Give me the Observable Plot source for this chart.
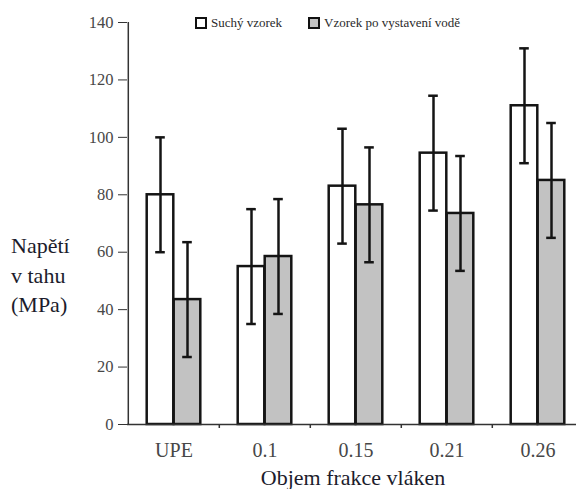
<!DOCTYPE html>
<html>
<head>
<meta charset="utf-8">
<script src="https://cdn.jsdelivr.net/npm/d3@7"></script>
<script src="https://cdn.jsdelivr.net/npm/@observablehq/plot@0.6"></script>
<style>
  html, body { margin: 0; padding: 0; background: #fff; }
  #wrap { position: relative; width: 576px; height: 489px; overflow: hidden; font-family: "Liberation Serif", "Times New Roman", serif; }
  #wrap svg { position: absolute; left: 0; top: 0; }
  .legend { position: absolute; top: 16px; height: 14px; font-size: 13px; color: #2a2a2a; display: flex; align-items: center; white-space: nowrap; }
  .legend .sw { box-sizing: border-box; width: 12px; height: 12px; border: 2.5px solid #111; margin-right: 4px; }
  .ytitle { position: absolute; left: 11px; top: 231px; font-size: 22px; line-height: 29.5px; color: #1c1c2c; }
  .xtitle { position: absolute; left: 0; width: 706px; text-align: center; top: 465px; font-size: 22px; line-height: 1.15; color: #1c1c2c; }
</style>
</head>
<body>
<div id="wrap">
  <div class="legend" style="left:195px"><span class="sw" style="background:#fff"></span>Suchý vzorek</div>
  <div class="legend" style="left:308px"><span class="sw" style="background:#c2c2c2"></span>Vzorek po vystavení vodě</div>
  <div class="ytitle">Napětí<br>v tahu<br>(MPa)</div>
  <div class="xtitle">Objem frakce vláken</div>
</div>
<script>
// Tensile strength by fibre volume fraction, dry vs. water-exposed samples
const categories = ["UPE", "0.1", "0.15", "0.21", "0.26"];
const dryValues = [80, 55, 83, 94.5, 111];
const dryErrors = [20, 20, 20, 20, 20];
const wetValues = [43.5, 58.5, 76.5, 73.5, 85];
const wetErrors = [20, 20, 20, 20, 20];
const yTicks = [0, 20, 40, 60, 80, 100, 120, 140];

const dry = categories.map((c, i) => ({cat: c, value: dryValues[i], lo: dryValues[i] - dryErrors[i], hi: dryValues[i] + dryErrors[i]}));
const wet = categories.map((c, i) => ({cat: c, value: wetValues[i], lo: wetValues[i] - wetErrors[i], hi: wetValues[i] + wetErrors[i]}));

// layout
const W = 576, H = 489, ML = 127, MR = -8, MT = 22, MB = 65;
const band = (W - ML - MR) / categories.length;
const half = band / 2;
const barW = 27;
const capW = 10;

// each series occupies one half of a centred pair of bars
const dryInset = {insetLeft: half - barW, insetRight: half};
const wetInset = {insetLeft: half, insetRight: half - barW};
const dryCap = {insetLeft: half - barW / 2 - capW / 2, insetRight: half + barW / 2 - capW / 2};
const wetCap = {insetLeft: half + barW / 2 - capW / 2, insetRight: half - barW / 2 - capW / 2};

const ink = "#141414";

const chart = Plot.plot({
  width: W, height: H,
  marginLeft: ML, marginRight: MR, marginTop: MT, marginBottom: MB,
  style: {fontFamily: "Liberation Serif, Times New Roman, serif", background: "transparent", overflow: "visible"},
  x: {domain: categories, padding: 0, axis: null},
  y: {domain: [0, 140], axis: null},
  marks: [
    Plot.rectY(dry, {x: "cat", y: "value", fill: "#fff", stroke: ink, strokeWidth: 2.5, ...dryInset}),
    Plot.rectY(wet, {x: "cat", y: "value", fill: "#c2c2c2", stroke: ink, strokeWidth: 2.5, ...wetInset}),
    Plot.ruleX(dry, {x: "cat", y1: "lo", y2: "hi", dx: -barW / 2, stroke: ink, strokeWidth: 2.5}),
    Plot.ruleX(wet, {x: "cat", y1: "lo", y2: "hi", dx: barW / 2, stroke: ink, strokeWidth: 2.5}),
    Plot.tickY(dry, {x: "cat", y: "hi", stroke: ink, strokeWidth: 2.5, ...dryCap}),
    Plot.tickY(dry, {x: "cat", y: "lo", stroke: ink, strokeWidth: 2.5, ...dryCap}),
    Plot.tickY(wet, {x: "cat", y: "hi", stroke: ink, strokeWidth: 2.5, ...wetCap}),
    Plot.tickY(wet, {x: "cat", y: "lo", stroke: ink, strokeWidth: 2.5, ...wetCap}),
    // axis lines
    Plot.ruleY([0], {stroke: "#333", strokeWidth: 1.5}),
    Plot.ruleX([categories[0]], {x: d => d, y1: 0, y2: 140, dx: -half, stroke: "#333", strokeWidth: 1.5}),
    // small separators between category groups
    Plot.ruleX(categories.slice(1), {x: d => d, y1: 0, y2: -1.4, dx: -half, stroke: "#333", strokeWidth: 1.5}),
    Plot.axisY({ticks: yTicks, tickSize: 9, tickPadding: 5, fontSize: 16.5, stroke: "#333", fill: "#474747", label: null}),
    Plot.axisX({tickSize: 0, tickPadding: 18, fontSize: 20, fill: "#474747", label: null})
  ]
});
document.getElementById("wrap").prepend(chart);
</script>
</body>
</html>
